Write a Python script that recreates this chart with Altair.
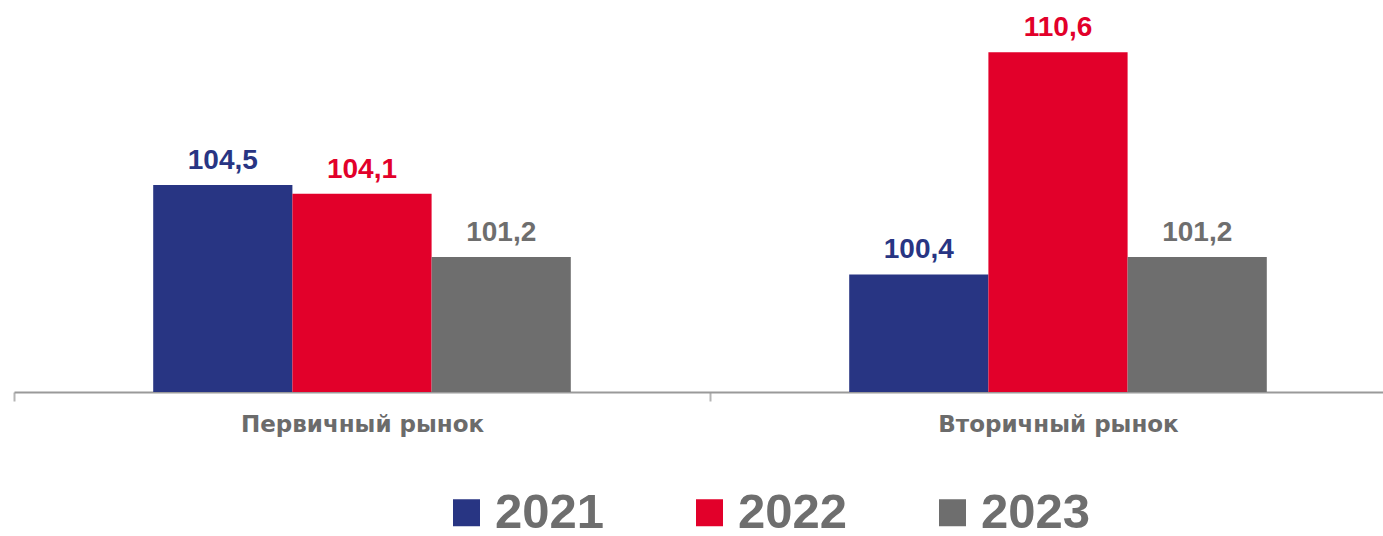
import altair as alt
import pandas as pd

categories = ["Первичный рынок", "Вторичный рынок"]
years = ["2021", "2022", "2023"]
values_2021 = [104.5, 100.4]
values_2022 = [104.1, 110.6]
values_2023 = [101.2, 101.2]
colors = ["#283583", "#E2002A", "#6E6E6E"]
y_min, y_max = 95, 113

rows = []
for yr, vals in zip(years, [values_2021, values_2022, values_2023]):
    for cat, v in zip(categories, vals):
        rows.append({"cat": cat, "year": yr, "value": v,
                     "label": f"{v:.1f}".replace(".", ",")})
df = pd.DataFrame(rows)

FONT = "Liberation Sans, Arial, sans-serif"
AXIS_FONT = "DejaVu Sans, Verdana, sans-serif"

x_enc = alt.X("cat:N", sort=categories, title=None,
              scale=alt.Scale(range=[0, 1392], paddingInner=0, paddingOuter=0),
              axis=alt.Axis(labelAngle=0, labelFontSize=23, labelFont=AXIS_FONT,
                            labelFontWeight="bold", labelColor="#6B6B6B",
                            labelPadding=12, labelLimit=500, tickBand="extent", tickSize=9,
                            tickColor="#B5B5B5", tickWidth=2,
                            domainColor="#9A9A9A", domainWidth=2, grid=False))
xoff_scale = alt.Scale(paddingInner=0, paddingOuter=1)
xoff = alt.XOffset("year:N", sort=years, scale=xoff_scale)
y_enc = alt.Y("value:Q", scale=alt.Scale(domain=[y_min, y_max], zero=False, nice=False),
              axis=None)
color_enc = alt.Color("year:N", sort=years,
                      scale=alt.Scale(domain=years, range=colors),
                      legend=alt.Legend(title=None, orient="none", direction="horizontal",
                                        legendX=428, legendY=488,
                                        symbolType="square", symbolSize=729,
                                        symbolStrokeWidth=0, symbolOpacity=1,
                                        labelFontSize=49, labelFont=FONT,
                                        labelFontWeight="bold", labelColor="#6E6E6E",
                                        labelOffset=4, columnPadding=80,
                                        labelLimit=300))

bars = alt.Chart(df).mark_bar(opacity=1).encode(
    x=x_enc, xOffset=xoff, y=y_enc, y2=alt.datum(y_min), color=color_enc
)
labels = alt.Chart(df).mark_text(dy=-16, baseline="alphabetic", fontSize=28,
                                 fontWeight="bold", font=FONT).encode(
    x=alt.X("cat:N", sort=categories), xOffset=alt.XOffset("year:N", sort=years),
    y="value:Q", text="label:N",
    color=alt.Color("year:N", sort=years, legend=None)
)

chart = alt.layer(bars, labels).properties(
    width=1369, height=392,
    autosize=alt.AutoSizeParams(type="none"),
    padding={"left": 14, "top": 0, "right": 0, "bottom": 144},
    background="white",
).configure_view(stroke=None)

chart.save("out.html", embed_options={"renderer": "svg", "actions": False})
